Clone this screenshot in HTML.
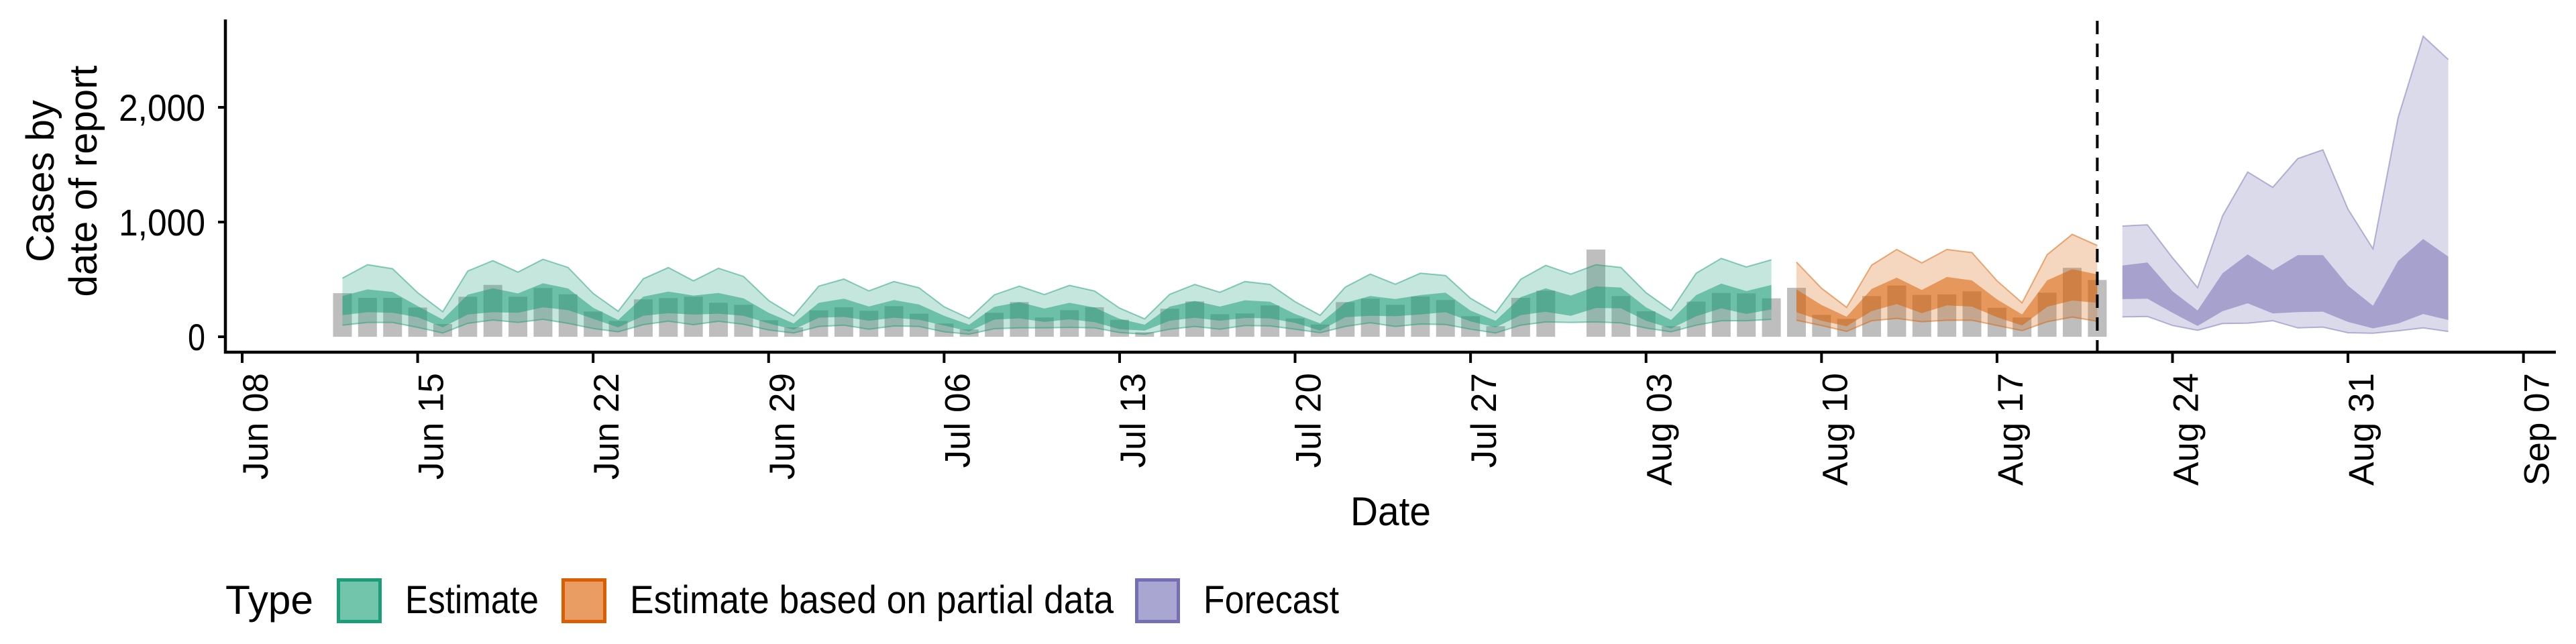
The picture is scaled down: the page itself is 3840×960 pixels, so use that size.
<!DOCTYPE html>
<html><head><meta charset="utf-8"><style>
html,body{margin:0;padding:0;background:#fff;}
svg{display:block;font-family:"Liberation Sans",Arial,sans-serif;}
</style></head><body>
<svg id="chart" width="3840" height="960" viewBox="0 0 3840 960" xmlns="http://www.w3.org/2000/svg">
<g id="bars"></g>
<g id="ribbons"></g>
<g id="axes"></g>
<g id="legend"></g>
</svg>
<script>
// data: day offset from Jun 08
const barDays = [4,5,6,7,8,9,10,11,12,13,14,15,16,17,18,19,20,21,22,23,24,25,26,27,28,29,30,31,32,33,34,35,36,37,38,39,40,41,42,43,44,45,46,47,48,49,50,51,52,53,54,55,56,57,58,59,60,61,62,63,64,65,66,67,68,69,70,71,72,73,74];
const barValues = [380,339,339,255,111,349,452,349,425,370,220,138,326,337,349,296,279,144,82,230,257,226,267,201,115,64,209,302,168,232,257,148,39,244,308,197,203,273,160,107,302,332,279,351,320,179,92,339,402,0,760,355,222,92,306,382,378,335,427,191,156,355,446,365,369,396,252,168,384,601,495];

const estDays = [4,5,6,7,8,9,10,11,12,13,14,15,16,17,18,19,20,21,22,23,24,25,26,27,28,29,30,31,32,33,34,35,36,37,38,39,40,41,42,43,44,45,46,47,48,49,50,51,52,53,54,55,56,57,58,59,60,61];
const estUpper90 = [511,628,593,384,218,573,663,564,675,604,378,222,505,603,488,597,526,316,183,441,503,400,481,427,261,160,365,441,368,448,399,250,156,370,456,388,481,456,306,187,433,546,458,554,534,335,209,501,622,546,628,604,384,228,554,683,608,671];
const estUpper50 = [355,413,390,267,150,367,423,378,466,421,253,146,349,394,359,382,335,209,117,296,332,264,320,281,183,105,261,302,246,296,255,156,105,263,312,263,318,306,199,117,296,355,329,363,384,228,140,345,423,359,439,429,257,146,363,464,398,452];
const estLower50 = [189,214,209,170,82,195,214,209,257,232,156,82,183,205,193,201,183,117,62,166,173,140,166,148,98,47,150,160,129,152,127,66,53,140,166,140,164,160,121,53,170,183,179,195,214,134,82,189,218,183,251,248,140,72,179,248,199,238];
const estLower90 = [101,125,125,82,33,117,146,125,152,117,72,43,105,136,105,135,109,59,33,90,101,66,94,90,43,23,70,78,78,82,78,37,23,66,90,66,98,94,66,35,90,122,90,111,107,66,33,101,129,125,129,121,76,43,101,140,140,152];

const partDays = [62,63,64,65,66,67,68,69,70,71,72,73,74];
const partUpper90 = [651,423,257,624,761,644,761,734,488,296,715,893,796];
const partUpper50 = [413,277,175,417,515,408,521,491,326,195,491,589,544];
const partLower50 = [214,140,92,224,285,205,273,263,170,98,261,316,296];
const partLower90 = [144,98,47,140,160,131,144,144,98,53,131,172,135];

const fcDays = [75,76,77,78,79,80,81,82,83,84,85,86,87,88];
const fcUpper90 = [965,976,689,428,1055,1436,1303,1554,1629,1112,766,1910,2620,2417];
const fcUpper50 = [621,648,397,230,554,718,580,712,712,445,271,661,852,699];
const fcLower50 = [328,332,209,94,223,292,203,215,219,129,73,115,198,146];
const fcLower90 = [173,177,98,56,115,119,140,77,84,35,31,52,77,46];

const xTickDays = [0,7,14,21,28,35,42,49,56,63,70,77,84,91];
const xTickLabels = ["Jun 08","Jun 15","Jun 22","Jun 29","Jul 06","Jul 13","Jul 20","Jul 27","Aug 03","Aug 10","Aug 17","Aug 24","Aug 31","Sep 07"];
const yTicks = [0,1000,2000];
const yTickLabels = ["0","1,000","2,000"];
const forecastDateDay = 74;

const NS = "http://www.w3.org/2000/svg";
function x(d){ return 361 + d*37.37; }
function y(v){ return 502 - v*0.171; }
function mk(tag, attrs, parent){
  const e = document.createElementNS(NS, tag);
  for (const k in attrs) e.setAttribute(k, attrs[k]);
  parent.appendChild(e); return e;
}
const gBars = document.getElementById('bars');
barDays.forEach((d,i)=>{
  const v = barValues[i];
  const r = mk('rect',{x:x(d)-14, y:y(v), width:28, height:Math.max(0,y(0)-y(v)), fill:'#bebebe'}, gBars);
  
  
});
const gR = document.getElementById('ribbons');
function band(days, up, lo, fill, op, stroke, name){
  let p = days.map((d,i)=>x(d).toFixed(1)+','+y(up[i]).toFixed(1)).join(' ');
  p += ' ' + days.slice().reverse().map((d,j)=>{const i=days.length-1-j; return x(d).toFixed(1)+','+y(lo[i]).toFixed(1);}).join(' ');
  const e = mk('polygon',{points:p, fill:fill, 'fill-opacity':op}, gR);
  
  
  if (stroke){
    const l1 = mk('polyline',{points:days.map((d,i)=>x(d).toFixed(1)+','+y(up[i]).toFixed(1)).join(' '), fill:'none', stroke:fill, 'stroke-opacity':0.5, 'stroke-width':2}, gR);
    
    
    const l2 = mk('polyline',{points:days.map((d,i)=>x(d).toFixed(1)+','+y(lo[i]).toFixed(1)).join(' '), fill:'none', stroke:fill, 'stroke-opacity':0.5, 'stroke-width':2}, gR);
    
    
  }
}
band(estDays, estUpper90, estLower90, '#1b9e77', 0.26, true, 'estimate-90-band');
band(estDays, estUpper50, estLower50, '#1b9e77', 0.52, false, 'estimate-50-band');
band(partDays, partUpper90, partLower90, '#d95f02', 0.26, true, 'partial-90-band');
band(partDays, partUpper50, partLower50, '#d95f02', 0.52, false, 'partial-50-band');
band(fcDays, fcUpper90, fcLower90, '#7570b3', 0.26, true, 'forecast-90-band');
band(fcDays, fcUpper50, fcLower50, '#7570b3', 0.52, false, 'forecast-50-band');

const gA = document.getElementById('axes');
const dl = mk('line',{x1:x(forecastDateDay), x2:x(forecastDateDay), y1:31, y2:525, stroke:'#000', 'stroke-width':4, 'stroke-dasharray':'20 14'}, gA);


const ya = mk('line',{x1:336, x2:336, y1:29, y2:527, stroke:'#000', 'stroke-width':4.5}, gA);


const xa = mk('line',{x1:334, x2:3810, y1:525, y2:525, stroke:'#000', 'stroke-width':4.5}, gA);


const yLabelWidths = [26, 129, 129];
yTicks.forEach((v,i)=>{
  const t = mk('line',{x1:325, x2:336, y1:y(v), y2:y(v), stroke:'#000', 'stroke-width':4}, gA);
  
  
  const tx = mk('text',{x:306, y:y(v)+20, 'text-anchor':'end', 'font-size':56, fill:'#000', textLength:yLabelWidths[i], lengthAdjust:'spacingAndGlyphs'}, gA);
  tx.textContent = yTickLabels[i];
  
  
});
xTickDays.forEach((d,i)=>{
  const t = mk('line',{x1:x(d), x2:x(d), y1:525, y2:541, stroke:'#000', 'stroke-width':4}, gA);
  
  
  const tx = mk('text',{x:0, y:0, 'text-anchor':'end', 'font-size':53, fill:'#000', transform:'translate('+(x(d)+38)+',556) rotate(-90)'}, gA);
  tx.textContent = xTickLabels[i];
  
  
});
const xt = mk('text',{x:2013, y:783, 'font-size':60, fill:'#000', textLength:120, lengthAdjust:'spacingAndGlyphs'}, gA);
xt.textContent = 'Date';


const yt = mk('text',{'text-anchor':'middle', 'font-size':58, fill:'#000', transform:'translate(80,270) rotate(-90)'}, gA);


const s1 = mk('tspan',{x:0, y:0}, yt); s1.textContent = 'Cases by';
const s2 = mk('tspan',{x:0, y:64}, yt); s2.textContent = 'date of report';

const gL = document.getElementById('legend');
const lt = mk('text',{x:336, y:915, 'font-size':60, fill:'#000', textLength:131, lengthAdjust:'spacingAndGlyphs'}, gL);
lt.textContent = 'Type';


const legendNames = ['Estimate','Estimate based on partial data','Forecast'];
const legendFill = ['#72c4ab','#e99d62','#a9a6d1'];
const legendStroke = ['#1b9e77','#d95f02','#7570b3'];
const legendKeyX = [502, 837, 1692];
const legendTextWidths = [199, 721, 202];
legendNames.forEach((n,i)=>{
  const r = mk('rect',{x:legendKeyX[i]+2.5, y:864.5, width:62, height:62, fill:legendFill[i], stroke:legendStroke[i], 'stroke-width':5}, gL);
  
  
  const t = mk('text',{x:legendKeyX[i]+102, y:914, 'font-size':58, fill:'#000', textLength:legendTextWidths[i], lengthAdjust:'spacingAndGlyphs'}, gL);
  t.textContent = n;
  
  
});
</script>
</body></html>
